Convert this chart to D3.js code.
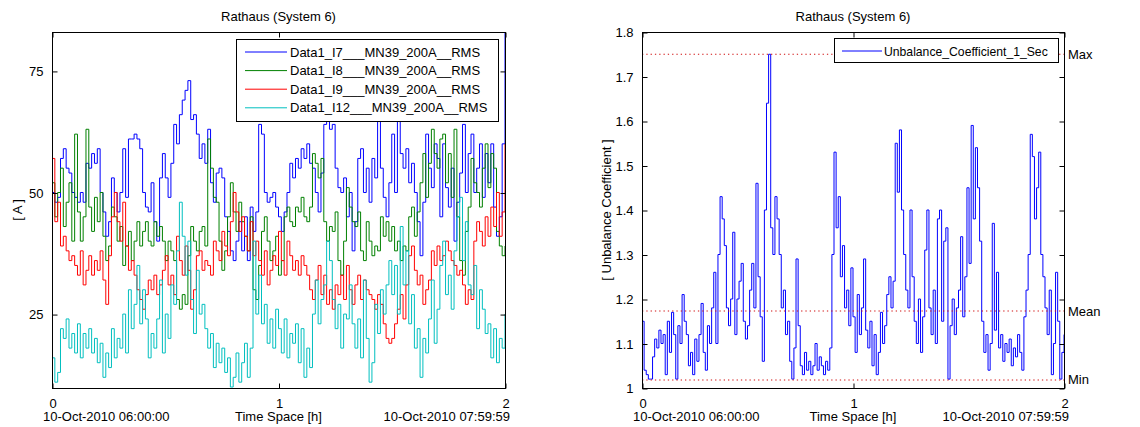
<!DOCTYPE html>
<html><head><meta charset="utf-8">
<script src="https://cdn.jsdelivr.net/npm/d3@7"></script>
<style>
body{margin:0;background:#fff}
text{font-family:"Liberation Sans",Arial,Helvetica,sans-serif;font-size:13px;fill:#000}
</style>
</head><body>
<svg id="c" width="1140" height="427"></svg>
<script>
// ---------- DATA ----------
const chartTitle = "Rathaus (System 6)";
const xTitle = "Time Space [h]";
const startLabel = "10-Oct-2010 06:00:00";
const endLabel = "10-Oct-2010 07:59:59";
const xTicks = [0, 1, 2];
const leftYTicks = [25, 50, 75];
const rightYTicks = [1, 1.1, 1.2, 1.3, 1.4, 1.5, 1.6, 1.7, 1.8];
const leftYLabel = "[ A ]";
const rightYLabel = "[ Unbalance Coefficient ]";
const seriesNames = ["Data1_I7___MN39_200A__RMS", "Data1_I8___MN39_200A__RMS", "Data1_I9___MN39_200A__RMS", "Data1_I12___MN39_200A__RMS"];
const seriesColors = ["#0000ff", "#008000", "#ff0000", "#00bfbf"];
const rightSeriesName = "Unbalance_Coefficient_1_Sec";
const statLabels = ["Max", "Mean", "Min"];
const statValues = [1.75, 1.173, 1.018];

// time axis (hours) for the current series: 161 samples over 2 h
const hoursLeft = d3.range(161).map(i => i * 2 / 160);
// time axis (hours) for the unbalance coefficient: 201 samples over 2 h
const hoursRight = d3.range(201).map(i => i * 2 / 200);

const I7 = [50,48,49,57,59,55,54,50, 49,48,50,48,56,55,58,56, 59,50,46,41,44,53,50,46, 50,59,49,61,61,62,61,59,
  50,47,46,52,44,40,53,58, 53,49,56,64,60,66,69,71, 73,65,66,62,57,60,56,63, 52,48,54,55,53,45,42,38,
  36,40,44,38,45,36,47,42, 46,64,62,50,48,49,50,47, 45,42,46,50,56,53,57,55, 59,57,60,56,55,50,46,54,
  64,67,63,64,55,51,50,53, 45,50,38,44,57,59,50,55, 48,57,53,66,55,49,45,52, 62,50,66,58,55,59,52,56,
  50,44,37,48,62,55,51,60, 57,45,60,51,47,55,40,48, 54,64,50,58,62,50,55,60, 49,58,52,60,47,41,45,60, 83];
const I8 = [52,45,50,55,43,48,52,40, 62,46,40,45,63,47,42,49, 44,50,41,36,39,47,45,40, 43,35,39,42,36,40,44,39,
  42,44,40,39,44,41,43,40, 36,40,38,36,28,26,29,27, 37,43,40,38,42,43,39,61, 55,49,48,40,34,38,45,52,
  46,42,48,44,41,38,45,30, 28,35,42,45,40,36,38,41, 33,36,45,47,44,43,47,46, 49,45,44,47,58,56,53,57,
  44,40,43,42,46,36,33,40, 51,47,44,43,46,38,36,44, 40,37,39,38,45,41,44,40, 43,38,40,36,39,38,45,47,
  41,46,52,58,49,56,63,58, 55,61,62,52,58,49,63,45, 36,33,42,47,57,52,50,47, 55,60,51,58,55,42,39,37, 39];
const I9 = [57,44,48,39,41,38,36,37, 35,33,38,31,34,37,33,36, 34,38,32,27,37,45,50,44, 40,48,39,34,36,33,30,28,
  26,29,32,30,33,29,31,34, 37,31,33,29,41,36,33,39, 34,26,30,37,38,34,36,35, 33,40,38,36,42,39,37,44,
  50,46,42,45,41,38,44,37, 40,36,33,38,31,34,37,35, 42,36,33,40,37,34,36,33, 37,35,33,30,28,32,35,29,
  33,27,30,26,31,29,33,28, 35,30,27,31,33,28,32,30, 29,28,26,29,27,23,20,19, 20,23,26,29,24,31,37,39,
  34,31,33,27,30,32,38,35, 39,36,37,40,38,36,35,33, 34,31,27,30,28,40,44,42, 39,45,41,47,43,50,41,46, 60];
const I12 = [16,11,13,22,20,24,18,21, 17,23,16,21,18,22,17,20, 15,19,12,17,14,22,16,20, 18,25,17,30,22,27,35,23,
  30,24,16,21,18,24,32,17, 25,20,31,27,38,48,41,33, 40,28,21,34,25,27,22,18, 21,14,19,15,18,13,16,10,
  12,17,11,15,19,12,18,40, 25,33,23,27,19,24,18,26, 22,17,24,16,21,19,23,15, 22,12,18,14,25,32,23,28,
  31,40,36,28,22,27,18,25, 24,31,23,18,24,16,32,20, 11,15,27,21,30,25,31,36, 29,35,25,43,31,38,23,29,
  18,22,12,20,17,24,32,19, 26,35,40,29,33,26,38,45, 49,36,44,31,29,35,22,30, 26,21,23,16,22,15,20,18, 25];
const unbalance = [
  1.15,1.04,1.03,1.02,1.02,1.07,1.11,1.09,1.13,1.10,
  1.12,1.03,1.15,1.08,1.17,1.12,1.02,1.14,1.10,1.21,
  1.15,1.12,1.05,1.08,1.03,1.11,1.06,1.12,1.19,1.08,
  1.04,1.14,1.10,1.18,1.26,1.10,1.30,1.43,1.38,1.32,
  1.18,1.14,1.20,1.35,1.12,1.20,1.24,1.28,1.15,1.11,
  1.14,1.22,1.28,1.18,1.46,1.25,1.16,1.06,1.40,1.64,
  1.75,1.36,1.30,1.43,1.38,1.30,1.18,1.22,1.12,1.15,
  1.06,1.02,1.09,1.29,1.14,1.05,1.03,1.08,1.04,1.06,
  1.03,1.05,1.10,1.04,1.07,1.05,1.03,1.06,1.04,1.09,
  1.30,1.53,1.36,1.43,1.25,1.32,1.18,1.22,1.14,1.27,
  1.16,1.08,1.21,1.12,1.18,1.29,1.13,1.09,1.15,1.05,
  1.12,1.03,1.08,1.17,1.10,1.14,1.21,1.25,1.18,1.24,
  1.55,1.44,1.58,1.40,1.30,1.22,1.18,1.40,1.25,1.15,
  1.10,1.20,1.08,1.16,1.31,1.40,1.18,1.12,1.22,1.10,
  1.38,1.40,1.15,1.33,1.36,1.02,1.14,1.20,1.12,1.18,
  1.22,1.34,1.16,1.25,1.45,1.28,1.59,1.38,1.54,1.45,
  1.33,1.15,1.08,1.12,1.04,1.10,1.37,1.13,1.26,1.09,
  1.12,1.06,1.10,1.08,1.11,1.05,1.09,1.07,1.12,1.08,
  1.04,1.16,1.22,1.30,1.57,1.52,1.38,1.45,1.53,1.30,
  1.25,1.18,1.12,1.22,1.03,1.10,1.26,1.15,1.02,1.08,
  1.12];
const leftSeries = [I7, I8, I9, I12];

// ---------- DRAW ----------
const svg = d3.select("#c");

function panel(opts) {
  const {x0, x1, y0, y1, yDomain, yTicks, yFmt, yLabel, yLabelX, id} = opts;
  const g = svg.append("g");
  const x = d3.scaleLinear().domain([0, 2]).range([x0, x1]);
  const y = d3.scaleLinear().domain(yDomain).range([y1, y0]);
  g.append("clipPath").attr("id", id).append("rect")
    .attr("x", x0).attr("y", y0).attr("width", x1 - x0).attr("height", y1 - y0);
  const plot = g.append("g").attr("clip-path", `url(#${id})`);
  const frame = g.append("g");
  frame.append("rect").attr("x", x0 + 0.5).attr("y", y0 + 0.5)
    .attr("width", x1 - x0).attr("height", y1 - y0)
    .attr("fill", "none").attr("stroke", "#000").attr("stroke-width", 1);
  const xAxB = d3.axisBottom(x).tickValues(xTicks).tickSize(-5).tickPadding(10).tickFormat(d3.format("d"));
  const xAxT = d3.axisTop(x).tickValues(xTicks).tickSize(-5).tickFormat("");
  const yAxL = d3.axisLeft(y).tickValues(yTicks).tickSize(-5).tickPadding(9).tickFormat(yFmt);
  const yAxR = d3.axisRight(y).tickValues(yTicks).tickSize(-5).tickFormat("");
  [[xAxB, `translate(0.5,${y1 + 0.5})`], [xAxT, `translate(0.5,${y0 + 0.5})`],
   [yAxL, `translate(${x0 + 0.5},0.5)`], [yAxR, `translate(${x1 + 0.5},0.5)`]].forEach(([ax, tr]) => {
    const a = frame.append("g").attr("transform", tr).call(ax);
    a.select(".domain").remove();
    a.selectAll("line").attr("stroke", "#000");
    a.selectAll("text").attr("fill", "#000");
  });
  frame.append("text").attr("x", (x0 + x1) / 2).attr("y", 21).attr("text-anchor", "middle").text(chartTitle);
  frame.append("text").attr("x", x0 - 9).attr("y", 421).text(startLabel);
  frame.append("text").attr("x", (x0 + x1) / 2).attr("y", 421).attr("text-anchor", "middle").text(xTitle);
  frame.append("text").attr("x", x1 + 5).attr("y", 421).attr("text-anchor", "end").text(endLabel);
  frame.append("text").attr("transform", `translate(${yLabelX},${(y0 + y1) / 2}) rotate(-90)`)
    .attr("text-anchor", "middle").text(yLabel);
  return {g, x, y, plot, frame};
}

// Left panel
const L = panel({x0: 52, x1: 505, y0: 32, y1: 388, yDomain: [9.8, 83], yTicks: leftYTicks,
  yFmt: d3.format("d"), yLabel: leftYLabel, yLabelX: 22, id: "clipL"});
leftSeries.forEach((s, k) => {
  const line = d3.line().curve(d3.curveStepAfter).x((d, i) => L.x(hoursLeft[i])).y(d => L.y(d));
  L.plot.append("path").attr("d", line(s)).attr("fill", "none")
    .attr("stroke", seriesColors[k]).attr("stroke-width", 1);
});
L.frame.raise();
{
  const lg = svg.append("g");
  lg.append("rect").attr("x", 236.5).attr("y", 39.5).attr("width", 262).attr("height", 82)
    .attr("fill", "#fff").attr("stroke", "#000");
  seriesNames.forEach((n, k) => {
    const yy = 52 + k * 18.6;
    lg.append("line").attr("x1", 245).attr("x2", 287).attr("y1", yy).attr("y2", yy)
      .attr("stroke", seriesColors[k]).attr("stroke-width", 1);
    lg.append("text").attr("x", 290).attr("y", yy + 4.5).text(n);
  });
}

// Right panel
const R = panel({x0: 642, x1: 1064, y0: 32, y1: 388, yDomain: [1, 1.8], yTicks: rightYTicks,
  yFmt: d => d3.format("~g")(d), yLabel: rightYLabel, yLabelX: 611, id: "clipR"});
{
  const line = d3.line().curve(d3.curveStepAfter).x((d, i) => R.x(hoursRight[i])).y(d => R.y(d));
  R.plot.append("path").attr("d", line(unbalance)).attr("fill", "none")
    .attr("stroke", "#0000ff").attr("stroke-width", 1);
  statValues.forEach((v, k) => {
    R.plot.append("line").attr("x1", R.x(0)).attr("x2", R.x(2)).attr("y1", R.y(v)).attr("y2", R.y(v))
      .attr("stroke", "#d01010").attr("stroke-width", 1.2).attr("stroke-dasharray", "1.3,3");
    svg.append("text").attr("x", 1068).attr("y", R.y(v) + 4.5).text(statLabels[k]);
  });
}
R.frame.raise();
{
  const lg = svg.append("g");
  lg.append("rect").attr("x", 834.5).attr("y", 38.5).attr("width", 224).attr("height", 24)
    .attr("fill", "#fff").attr("stroke", "#000");
  lg.append("line").attr("x1", 842).attr("x2", 882).attr("y1", 51).attr("y2", 51)
    .attr("stroke", "#0000ff").attr("stroke-width", 1);
  lg.append("text").attr("x", 884).attr("y", 55.5).style("font-size", "12.2px").text(rightSeriesName);
}
</script>
</body></html>
